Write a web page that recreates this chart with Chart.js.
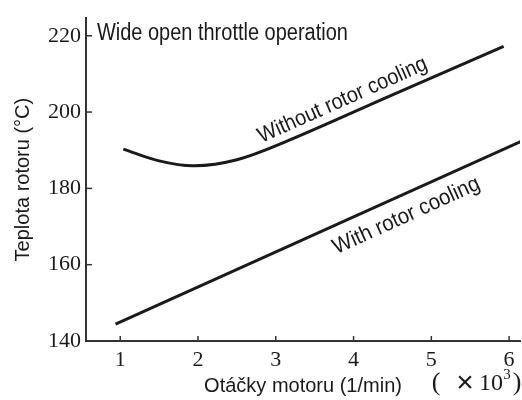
<!DOCTYPE html>
<html lang="cs">
  <head>
    <meta charset="UTF-8" />
    <title>Teplota rotoru</title>
    <script src="https://cdn.jsdelivr.net/npm/chart.js"></script>
    <style>
      body { margin: 0; background: #fff; }
      #wrap { width: 522px; height: 400px; }
    </style>
  </head>
  <body>
    <div id="wrap"><canvas id="myChart"></canvas></div>

    <script>
      // engine speed (x 10^3 1/min) and rotor temperature (°C)
      const speedWithout = [1.04, 1.5, 1.95, 2.5, 3.1, 4.5, 5.93];
      const tempWithout = [190.3, 187.2, 185.9, 187.5, 192.0, 204.5, 217.2];
      const speedWith = [0.94, 6.15];
      const tempWith = [144.4, 192.3];

      const yTicks = [140, 160, 180, 200, 220];
      const xTicks = [1, 2, 3, 4, 5, 6];

      const toPoints = (xs, ys) => xs.map((x, i) => ({ x: x, y: ys[i] }));

      const sans = '"Liberation Sans", Arial, sans-serif';
      const serif = '"Liberation Serif", "DejaVu Serif", serif';
      const ink = "#1a1a1a";

      // text squeezed sideways to the width it has in the picture (narrow typeface)
      function squeezed(ctx, text, px, py, width, deg, align) {
        const w = ctx.measureText(text).width;
        ctx.save();
        ctx.translate(px, py);
        ctx.rotate((deg * Math.PI) / 180);
        ctx.scale(width / w, 1);
        ctx.textAlign = align;
        ctx.fillText(text, 0, 0);
        ctx.restore();
      }

      // small tick marks drawn inside the axes + the text notes
      const notes = {
        id: "notes",
        afterDraw(chart) {
          const ctx = chart.ctx;
          const xs = chart.scales.x;
          const ys = chart.scales.y;
          ctx.save();
          ctx.strokeStyle = "#333";
          ctx.lineWidth = 1.5;
          yTicks.forEach((v) => {
            const py = ys.getPixelForValue(v);
            ctx.beginPath();
            ctx.moveTo(xs.left, py);
            ctx.lineTo(xs.left + 6, py);
            ctx.stroke();
          });
          xTicks.forEach((v) => {
            const px = xs.getPixelForValue(v);
            ctx.beginPath();
            ctx.moveTo(px, ys.bottom);
            ctx.lineTo(px, ys.bottom - 5);
            ctx.stroke();
          });

          ctx.fillStyle = ink;
          ctx.textBaseline = "middle";
          ctx.font = "23px " + sans;
          squeezed(ctx, "Wide open throttle operation", xs.getPixelForValue(0.7), ys.getPixelForValue(220.5), 251, 0, "left");

          ctx.font = "22px " + sans;
          squeezed(ctx, "Without rotor cooling", xs.getPixelForValue(3.86), ys.getPixelForValue(203.1), 183, -24, "center");
          squeezed(ctx, "With rotor cooling", xs.getPixelForValue(4.68), ys.getPixelForValue(172.8), 159, -24.5, "center");

          // multiplier of the speed axis: ( ×10³ )
          ctx.textAlign = "center";
          ctx.font = "26px " + serif;
          ctx.fillText("(", 436, 383);
          ctx.fillText(")", 517, 383);
          ctx.font = "30px " + sans;
          ctx.fillText("×", 465, 384);
          ctx.font = "24px " + serif;
          ctx.fillText("10", 491, 384);
          ctx.font = "15px " + serif;
          ctx.fillText("3", 507, 375);
          ctx.restore();
        },
      };

      const config = {
        type: "line",
        data: {
          datasets: [
            {
              label: "Without rotor cooling",
              data: toPoints(speedWithout, tempWithout),
              borderColor: ink,
              borderWidth: 3,
              pointRadius: 0,
              tension: 0.35,
            },
            {
              label: "With rotor cooling",
              data: toPoints(speedWith, tempWith),
              borderColor: ink,
              borderWidth: 3,
              pointRadius: 0,
            },
          ],
        },
        options: {
          responsive: true,
          maintainAspectRatio: false,
          animation: false,
          layout: { padding: { top: 12, right: 2, left: 0, bottom: 0 } },
          plugins: { legend: { display: false }, tooltip: { enabled: false } },
          scales: {
            x: {
              type: "linear",
              min: 0.56,
              max: 6.14,
              afterFit: (scale) => {
                scale.height = 59;
              },
              grid: { drawOnChartArea: false, drawTicks: false },
              border: { color: "#333", width: 2 },
              ticks: {
                stepSize: 1,
                includeBounds: false,
                padding: 6,
                color: ink,
                font: { family: serif, size: 22 },
              },
              title: {
                display: true,
                text: "Otáčky motoru (1/min)",
                color: ink,
                font: { family: sans, size: 20 },
                padding: { top: 0, bottom: 2 },
              },
            },
            y: {
              min: 140,
              max: 224.6,
              afterFit: (scale) => {
                scale.width = 86;
              },
              grid: { drawOnChartArea: false, drawTicks: false },
              border: { color: "#333", width: 2 },
              ticks: {
                stepSize: 20,
                includeBounds: false,
                padding: 5,
                color: ink,
                font: { family: serif, size: 22 },
              },
              title: {
                display: true,
                text: "Teplota rotoru (°C)",
                color: ink,
                font: { family: sans, size: 20 },
                padding: { top: 11, bottom: 0 },
              },
            },
          },
        },
        plugins: [notes],
      };

      new Chart(document.getElementById("myChart"), config);
    </script>
  </body>
</html>
